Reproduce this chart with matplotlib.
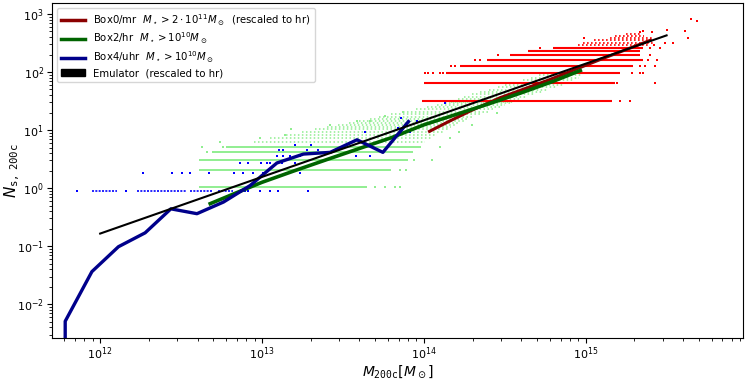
import numpy as np
import matplotlib
matplotlib.use("Agg")
import matplotlib.pyplot as plt
from matplotlib.lines import Line2D
from matplotlib.patches import Patch

# ---- values (log10 of halo mass, satellite counts) ----

# mean relations
box4_lm = [11.63, 11.784, 11.949, 12.113, 12.278, 12.437, 12.598, 12.762, 12.927,
           13.092, 13.256, 13.421, 13.587, 13.747, 13.905]
box4_n = [0.0, 0.0051, 0.0365, 0.098, 0.17, 0.44, 0.363, 0.576, 1.11,
          2.71, 3.86, 4.13, 6.8, 4.13, 14.0]

box2_lm = [12.68, 12.85, 13.0, 13.2, 13.4, 13.6, 13.8, 14.0, 14.2, 14.4, 14.6, 14.8, 14.967]
box2_n = [0.54, 0.85, 1.26, 1.99, 3.1, 4.8, 7.4, 12.3, 18.6, 28.2, 43.6, 69.2, 106.0]

box0_lm = [14.035, 14.142, 14.287, 14.472, 14.781, 15.09, 15.399]
box0_n = [9.5, 13.5, 21.3, 36.1, 74.5, 164.0, 351.0]

emu_lm = [12.0, 12.5, 13.0, 13.5, 14.0, 14.5, 15.0, 15.5]
emu_n = [0.165, 0.507, 1.56, 4.79, 14.7, 45.2, 139.0, 427.0]

# Box2/hr individual haloes: integer counts, dense strips for low counts
hr_scale = 1.03
box2_strip_n = [1, 2, 3, 4, 5]
box2_strip_lo = [12.61, 12.61, 12.61, 12.70, 12.78]
box2_strip_hi = [13.65, 13.80, 13.90, 13.93, 13.98]
# sparser strips for higher counts
box2_sparse_n = [6, 7, 8, 9, 10, 11, 12, 13, 14, 15, 16, 18, 20, 22,
                 24, 26, 28, 30, 33, 36, 40, 44, 48, 53, 58, 64, 70, 77, 85, 94]
box2_sparse_lo = [12.95, 13.05, 13.15, 13.25, 13.33, 13.40, 13.47, 13.54, 13.60, 13.67,
                  13.72, 13.80, 13.87, 13.95, 14.02, 14.08, 14.13, 14.17, 14.21, 14.25,
                  14.30, 14.35, 14.40, 14.46, 14.50, 14.56, 14.61, 14.66, 14.71, 14.76]
box2_sparse_hi = [14.01, 14.05, 14.08, 14.12, 14.15, 14.17, 14.20, 14.22, 14.25, 14.28,
                  14.30, 14.35, 14.40, 14.44, 14.47, 14.50, 14.53, 14.56, 14.60, 14.64,
                  14.68, 14.73, 14.77, 14.82, 14.86, 14.90, 14.93, 14.96, 14.97, 14.97]
box2_dot_lm = [13.70, 13.76, 13.82, 13.85, 13.85, 13.89, 13.94, 14.05, 14.10, 14.16,
               12.74, 12.63, 12.99, 13.14, 13.18, 13.42, 13.59, 13.67, 13.76, 13.87,
               14.22, 14.30, 14.45, 12.66, 12.70, 12.76]
box2_dot_n = [1, 1, 1, 1, 2, 2, 3, 3, 5, 7,
              6, 5, 7, 8, 10, 12, 14, 14, 17, 20,
              9, 12, 19, 4, 4, 5]

# Box4/uhr individual haloes
uhr_scale = 0.91
box4_strip_lo = [11.951, 12.229, 12.556, 12.729]
box4_strip_hi = [12.105, 12.538, 12.698, 12.822]
box4_dot_lm = [11.858, 12.161, 12.896, 12.915, 12.989, 13.051, 13.100, 13.286,
               12.266, 12.445, 12.507, 12.556, 12.674, 12.828, 12.884, 12.946, 13.007, 13.236,
               12.865, 12.915, 12.995, 13.032, 13.051, 13.125, 13.205, 13.58,
               13.094, 13.131, 13.174, 13.236, 13.669,
               13.106, 13.131, 13.279, 13.347, 13.58,
               13.205, 13.301, 13.638, 13.916, 13.842, 13.957, 13.859, 14.132]
box4_dot_n = [1, 1, 1, 1, 1, 1, 1, 1,
              2, 2, 2, 2, 2, 2, 2, 2, 2, 2,
              3, 3, 3, 3, 3, 3, 3, 4,
              4, 4, 4, 4, 4,
              5, 5, 5, 5, 5,
              6, 6, 10, 10, 12, 16, 18, 32]

# Box0/mr individual haloes, rescaled to hr
mr_scale = 32.2
box0_strip_k = [1, 2, 3, 4, 5, 6, 7, 8]
box0_strip_lo = [13.99, 14.00, 14.14, 14.225, 14.39, 14.53, 14.645, 14.80]
box0_strip_hi = [15.164, 15.183, 15.214, 15.294, 15.356, 15.337, 15.337, 15.356]
box0_sparse_k = [9, 10, 11, 12, 13, 14]
box0_sparse_lo = [14.95, 14.985, 15.05, 15.15, 15.18, 15.25]
box0_sparse_hi = [15.40, 15.43, 15.41, 15.42, 15.36, 15.35]
box0_dot_lm = [15.214, 15.276, 15.195, 15.43, 14.008, 14.027, 14.058, 14.101, 14.12,
               15.288, 15.337, 15.356, 14.169, 14.194, 15.337, 15.368, 15.43,
               14.318, 14.349, 15.387, 15.443, 14.46, 15.40, 14.72, 15.40, 15.46,
               15.42, 15.49, 15.54, 14.99, 15.337, 15.41, 15.356, 15.50,
               15.653, 15.69, 15.615, 15.634]
box0_dot_n = [32, 32, 64, 64, 97, 97, 97, 97, 97,
              97, 97, 97, 129, 129, 129, 129, 129,
              161, 161, 161, 161, 193, 193, 258, 258, 258,
              290, 322, 322, 386, 483, 483, 515, 535,
              824, 741, 500, 380]


def main():
    fig = plt.figure(figsize=(7.48, 3.79), dpi=100)
    ax = fig.add_axes([0.069, 0.108, 0.9247, 0.8833])

    # Box2/hr haloes
    ax.hlines(np.array(box2_strip_n) * hr_scale, 10 ** np.array(box2_strip_lo),
              10 ** np.array(box2_strip_hi), color="lightgreen", lw=1.4, zorder=1)
    ax.hlines(np.array(box2_sparse_n) * hr_scale, 10 ** np.array(box2_sparse_lo),
              10 ** np.array(box2_sparse_hi), color="lightgreen", lw=1.1,
              linestyles=(0, (1.0, 1.6)), zorder=1)
    ax.plot(10 ** np.array(box2_dot_lm), np.array(box2_dot_n) * hr_scale, "s",
            color="lightgreen", ms=1.5, mew=0, zorder=1)

    # Box4/uhr haloes
    ax.hlines([uhr_scale] * len(box4_strip_lo), 10 ** np.array(box4_strip_lo),
              10 ** np.array(box4_strip_hi), color="blue", lw=1.2,
              linestyles=(0, (1.2, 0.8)), zorder=2)
    ax.plot(10 ** np.array(box4_dot_lm), np.array(box4_dot_n) * uhr_scale, "s",
            color="blue", ms=1.6, mew=0, zorder=2)

    # Box0/mr haloes
    ax.hlines(np.array(box0_strip_k) * mr_scale, 10 ** np.array(box0_strip_lo),
              10 ** np.array(box0_strip_hi), color="red", lw=1.5, zorder=2)
    ax.hlines(np.array(box0_sparse_k) * mr_scale, 10 ** np.array(box0_sparse_lo),
              10 ** np.array(box0_sparse_hi), color="red", lw=1.2,
              linestyles=(0, (1.0, 1.4)), zorder=2)
    ax.plot(10 ** np.array(box0_dot_lm), box0_dot_n, "s",
            color="red", ms=1.6, mew=0, zorder=2)

    # mean relations
    ax.plot(10 ** np.array(box0_lm), box0_n, color="darkred", lw=2.2, zorder=4)
    ax.plot(10 ** np.array(box2_lm), box2_n, color="darkgreen", lw=2.6, zorder=4)
    ax.plot(10 ** np.array(box4_lm), box4_n, color="darkblue", lw=2.4, zorder=5)
    ax.plot(10 ** np.array(emu_lm), emu_n, color="black", lw=1.5, zorder=6)

    ax.set_xscale("log")
    ax.set_yscale("log")
    ax.set_xlim(10 ** 11.70, 10 ** 15.974)
    ax.set_ylim(10 ** -2.582, 10 ** 3.183)
    ax.tick_params(labelsize=8, pad=2)

    ax.set_xlabel(r"$M_{\mathtt{200c}}[M_\odot]$", fontsize=10)
    ax.set_ylabel(r"$N_{\mathtt{s,\,200c}}$", fontsize=11)
    ax.xaxis.set_label_coords(0.5, -0.075)
    ax.yaxis.set_label_coords(-0.043, 0.5)

    handles = [
        Line2D([], [], color="darkred", lw=2.5),
        Line2D([], [], color="darkgreen", lw=2.5),
        Line2D([], [], color="darkblue", lw=2.5),
        Patch(facecolor="black", edgecolor="black"),
    ]
    labels = [
        r"Box0/mr  $M_\star > 2\cdot10^{11}M_\odot$  (rescaled to hr)",
        r"Box2/hr  $M_\star > 10^{10}M_\odot$",
        r"Box4/uhr  $M_\star > 10^{10}M_\odot$",
        "Emulator  (rescaled to hr)",
    ]
    ax.legend(handles, labels, loc="upper left", fontsize=7.3, borderaxespad=0.5,
              handlelength=2.4, labelspacing=0.3)

    fig.savefig("out.png", dpi=100)
    plt.close(fig)


if __name__ == "__main__":
    main()
